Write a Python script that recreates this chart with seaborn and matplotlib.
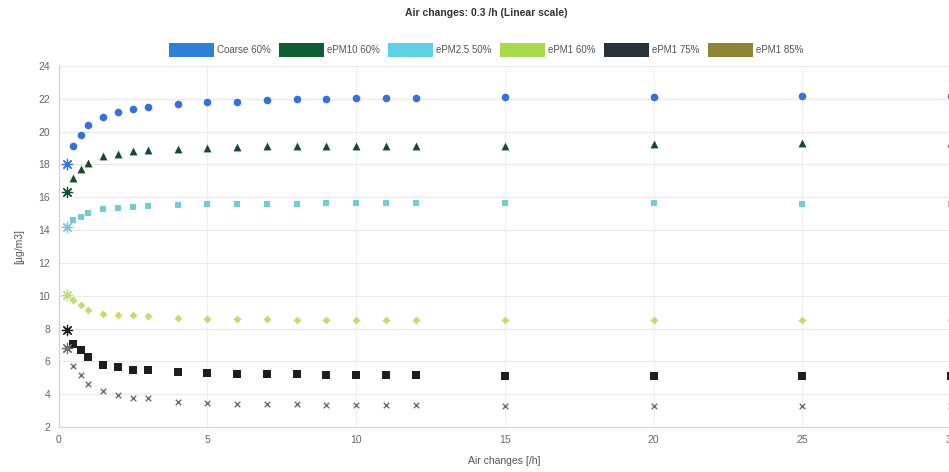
import matplotlib
matplotlib.use("Agg")
import matplotlib.pyplot as plt
from matplotlib.patches import Rectangle
import seaborn as sns
import pandas as pd

# Air change rates [/h]
air_changes = [0.3, 0.5, 0.75, 1, 1.5, 2, 2.5, 3, 4, 5, 6, 7, 8, 9, 10, 11, 12, 15, 20, 25, 30]

# Particle concentrations [µg/m3] per filter class
coarse_60 = [18.0, 19.1, 19.8, 20.4, 20.9, 21.2, 21.4, 21.5, 21.7, 21.8, 21.8, 21.9, 22.0,
             22.0, 22.05, 22.05, 22.05, 22.1, 22.1, 22.2, 22.2]
epm10_60 = [16.3, 17.2, 17.7, 18.1, 18.5, 18.65, 18.8, 18.9, 18.95, 19.0, 19.05, 19.1, 19.1,
            19.1, 19.15, 19.15, 19.15, 19.15, 19.25, 19.3, 19.3]
epm25_50 = [14.2, 14.6, 14.8, 15.05, 15.3, 15.35, 15.4, 15.45, 15.55, 15.6, 15.6, 15.6, 15.6,
            15.65, 15.65, 15.65, 15.65, 15.65, 15.65, 15.6, 15.6]
epm1_60 = [10.05, 9.75, 9.45, 9.15, 8.9, 8.85, 8.8, 8.75, 8.65, 8.6, 8.6, 8.6, 8.55,
           8.55, 8.55, 8.55, 8.55, 8.55, 8.55, 8.5, 8.5]
epm1_75 = [7.9, 7.05, 6.7, 6.25, 5.8, 5.65, 5.5, 5.45, 5.35, 5.3, 5.25, 5.2, 5.2,
           5.15, 5.15, 5.15, 5.15, 5.1, 5.1, 5.1, 5.1]
epm1_85 = [6.8, 5.7, 5.15, 4.65, 4.2, 3.95, 3.75, 3.75, 3.5, 3.45, 3.4, 3.4, 3.4,
           3.35, 3.35, 3.35, 3.35, 3.25, 3.25, 3.25, 3.25]

series_names = ["Coarse 60%", "ePM10 60%", "ePM2.5 50%", "ePM1 60%", "ePM1 75%", "ePM1 85%"]
series_values = [coarse_60, epm10_60, epm25_50, epm1_60, epm1_75, epm1_85]

legend_colors = ["#2f7ed8", "#0d5e32", "#5fd0e2", "#a9d94e", "#27323b", "#8f8537"]
marker_colors = ["#3670dc", "#154a2c", "#74cbd6", "#c4dc6a", "#1e1e1e", "#707070"]
marker_shapes = ["o", "^", "s", "D", "s", "x"]
marker_sizes = [30, 32, 24, 16, 28, 16]

highlight_rate = 0.3

rows = []
for name, vals in zip(series_names, series_values):
    for x, y in zip(air_changes, vals):
        rows.append({"rate": x, "conc": y, "series": name})
df = pd.DataFrame(rows)

sns.set_theme(style="white")
plt.rcParams["font.family"] = ["Liberation Sans Narrow", "Liberation Sans", "DejaVu Sans"]

fig = plt.figure(figsize=(9.49, 4.72), dpi=100)
ax = fig.add_axes([58.5 / 949, 45 / 472, (951 - 58.5) / 949, (427 - 66) / 472])

for spine in ["top", "right"]:
    ax.spines[spine].set_visible(False)
ax.spines["left"].set_color("#cfcfcf")
ax.spines["bottom"].set_color("#cfd6e0")
ax.spines["left"].set_linewidth(0.8)
ax.spines["bottom"].set_linewidth(0.8)

ax.grid(True, axis="y", color="#e9e9e9", linewidth=0.8)
ax.grid(True, axis="x", color="#efefef", linewidth=0.8)
ax.set_axisbelow(True)

for i, name in enumerate(series_names):
    sub = df[(df["series"] == name) & (df["rate"] != highlight_rate)]
    kw = dict(linewidth=1.0) if marker_shapes[i] == "x" else dict(linewidth=0)
    sns.scatterplot(data=sub, x="rate", y="conc", ax=ax, color=marker_colors[i],
                    marker=marker_shapes[i], s=marker_sizes[i], legend=False,
                    zorder=3, clip_on=False, **kw)
    hl = df[(df["series"] == name) & (df["rate"] == highlight_rate)]
    sns.scatterplot(data=hl, x="rate", y="conc", ax=ax, color=marker_colors[i],
                    marker=(8, 2, 0), s=55, linewidth=0.9, edgecolor=marker_colors[i],
                    legend=False, zorder=4, clip_on=False)

ax.set_xlim(0, 30)
ax.set_ylim(2, 24)
ax.set_xticks(range(0, 31, 5))
ax.set_yticks(range(2, 25, 2))
ax.tick_params(axis="both", labelsize=7.5, labelcolor="#666666", length=0, pad=6)
ax.set_xlabel("Air changes [/h]", fontsize=7.5, color="#555555", labelpad=8)
ax.set_ylabel("[µg/m3]", fontsize=7.5, color="#555555", labelpad=10)

fig.text(486 / 949, 1 - 13 / 472, "Air changes: 0.3 /h (Linear scale)", ha="center",
         va="center", fontsize=7.5, fontweight="bold", color="#333333")

handles = [Rectangle((0, 0), 1, 1, facecolor=c, edgecolor="none") for c in legend_colors]
fig.legend(handles, series_names, loc="center", bbox_to_anchor=(486 / 949, 1 - 50 / 472),
           ncol=6, frameon=False, fontsize=7, handlelength=4.6, handleheight=1.7,
           handletextpad=0.3, columnspacing=0.9, labelcolor="#555555")

fig.savefig("out.png", dpi=100)
